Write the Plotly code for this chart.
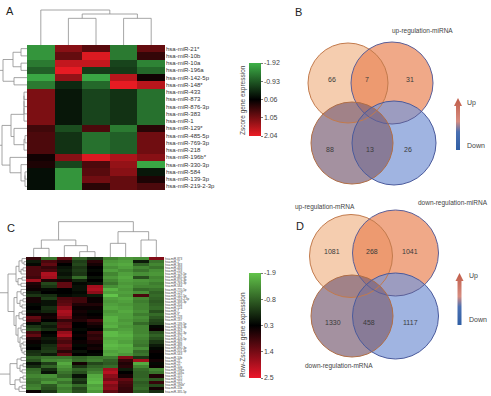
import plotly.graph_objects as go

W, H = 491, 396
FONT = "Liberation Sans, Arial, sans-serif"


def px(x):
    return x / W


def py(y):
    return 1 - y / H


# ---------------- Panel A data ----------------
A_ROWS = ["hsa-miR-21*", "hsa-miR-10b", "hsa-miR-10a", "hsa-miR-196a", "hsa-miR-142-5p",
          "hsa-miR-148*", "hsa-miR-433", "hsa-miR-873", "hsa-miR-876-3p", "hsa-miR-383",
          "hsa-miR-1", "hsa-miR-129*", "hsa-miR-485-5p", "hsa-miR-769-3p", "hsa-miR-218",
          "hsa-miR-196b*", "hsa-miR-330-3p", "hsa-miR-584", "hsa-miR-139-3p", "hsa-miR-219-2-3p"]
A_Z = [
    [-1.6, 1.2, 0.8, -1.3, 0.9],
    [-1.6, 0.9, 1.9, -1.3, 0.5],
    [-1.3, 1.7, 1.7, -0.7, -1.4],
    [-1.0, 2.0, -0.6, -0.6, -1.1],
    [-1.8, 1.3, -1.8, 1.6, 0.2],
    [-1.3, -0.4, -1.1, 2.0, 1.6],
    [1.1, -0.2, -0.7, -0.5, -1.2],
    [1.1, -0.2, -0.7, -0.5, -1.2],
    [1.1, -0.2, -0.7, -0.5, -1.2],
    [1.1, -0.2, -0.7, -0.5, -1.2],
    [1.1, -0.2, -0.7, -0.5, -1.2],
    [0.6, -0.8, 0.7, -1.3, 0.4],
    [0.7, -0.5, -1.2, -1.0, 1.0],
    [0.7, -0.5, -1.2, -1.0, 1.0],
    [0.7, -0.5, -1.2, -1.0, 1.0],
    [0.2, 1.2, 1.9, 1.5, 1.2],
    [0.3, -0.7, 0.7, 1.3, -1.8],
    [-0.1, -1.6, 0.8, 1.2, -0.2],
    [-0.1, -1.6, 1.0, 0.9, 0.3],
    [-0.1, -1.6, 0.4, 0.9, 0.7],
]
A_TICKS = [-1.92, -0.93, 0.06, 1.05, 2.04]
# dendrograms: (height, left, right); leaves are row/column indices
A_TOP_TREE = (105, 0, (93, (80, 1, 2), (80, 3, 4)))
A_LEFT_TREE = (30, (24, (14, (6, 0, 1), (6, 2, 3)), (13, 4, 5)),
               (25, (16, (3, (3, (3, (3, 6, 7), 8), 9), 10), (13, 11, (3, (2, 12, 13), 14))),
                (17, 15, (6, 16, (2, (2, 17, 18), 19)))))

# ---------------- Panel C data ----------------
C_ROWS = ["hsa-miR-873", "hsa-miR-1*", "hsa-miR-383", "hsa-miR-433", "hsa-miR-218",
          "hsa-miR-129-5p", "hsa-miR-485-5p", "hsa-miR-876-3p", "hsa-miR-769-3p", "hsa-miR-584",
          "hsa-miR-770-5p", "hsa-miR-129*", "hsa-miR-142-5p", "hsa-miR-219-2-3p", "hsa-miR-338-3p",
          "hsa-miR-204", "hsa-miR-124", "hsa-miR-7", "hsa-miR-9*", "hsa-miR-128",
          "hsa-miR-137", "hsa-miR-139-5p", "hsa-miR-323-3p", "hsa-miR-329", "hsa-miR-342-3p",
          "hsa-miR-379", "hsa-miR-409-5p", "hsa-miR-432", "hsa-miR-488", "hsa-miR-490-3p",
          "hsa-miR-501-5p", "hsa-miR-543", "hsa-miR-10b", "hsa-miR-21", "hsa-miR-21*",
          "hsa-miR-10a", "hsa-miR-196a", "hsa-miR-148a", "hsa-miR-155", "hsa-miR-210",
          "hsa-miR-222", "hsa-miR-196b*", "hsa-miR-15b", "hsa-miR-335-5p"]
C_Z = [
    [0.8, -1.0, 1.2, -0.8, -0.3, -1.2, -1.4, -1.3, 1.5],
    [0.0, 1.0, 0.6, -0.4, 0.7, -1.4, -1.5, 0.0, -1.0],
    [0.2, 1.2, 0.3, -0.5, 0.5, -1.5, -1.6, -0.8, -1.2],
    [1.0, 0.8, 0.1, -0.3, 0.3, -1.3, -1.5, -1.2, -1.0],
    [1.0, 1.0, 0.0, -0.4, 0.2, -1.5, -1.3, -1.0, -1.3],
    [1.0, 1.9, 0.1, -0.3, 0.3, -1.2, -1.5, -1.3, -1.4],
    [0.9, 1.8, -0.1, -0.9, 0.1, -1.4, -1.6, -0.6, -1.2],
    [1.8, 0.6, 0.5, -0.1, 0.3, -1.2, -1.5, -1.4, -1.3],
    [0.6, -0.5, 1.2, 0.2, 0.1, -1.0, -1.4, -1.3, -1.1],
    [0.5, -0.3, 1.2, 0.1, 1.8, -1.3, -1.5, -1.2, -1.2],
    [0.4, 0.2, 0.3, 0.1, 1.9, -1.7, -1.4, -0.9, -1.0],
    [0.0, 0.3, 0.3, 0.2, 1.6, -1.5, -1.5, -1.3, -0.8],
    [-0.3, -0.2, 0.2, 0.1, 0.0, -1.9, -1.4, 1.0, -0.9],
    [0.5, -0.4, 1.0, 0.9, 0.4, -1.5, -1.6, -1.2, -0.8],
    [0.5, 0.1, 1.1, 0.9, 0.4, -1.4, -1.5, -1.1, -0.7],
    [0.2, 0.1, 1.2, 0.6, 0.6, -1.5, -1.4, -1.2, -0.8],
    [0.3, -0.2, 1.6, 0.4, 0.4, -1.6, -1.5, -1.2, -0.9],
    [0.1, -0.1, 1.9, 0.5, 0.2, -1.4, -1.6, -1.3, -0.6],
    [0.4, 0.4, 1.8, 0.4, 0.3, -1.5, -1.5, -1.1, -0.9],
    [1.2, 0.5, 1.5, 0.5, 0.4, -1.7, -1.5, -1.3, -0.7],
    [1.0, 0.3, 0.8, 0.6, 0.9, -1.7, -1.4, -1.2, -0.5],
    [0.2, -0.2, 1.1, 0.3, 0.6, -1.6, -1.5, -0.9, -0.4],
    [-0.3, 0.0, 1.2, 0.3, 0.4, -1.7, -1.4, -1.2, 0.2],
    [-0.5, -0.2, 0.9, 0.2, 0.3, -1.4, -1.5, -1.2, 0.4],
    [0.9, 0.3, 1.7, 0.3, 0.9, -1.8, -1.6, -1.2, -0.6],
    [1.2, 0.2, 1.9, 0.4, 0.7, -1.8, -1.7, -1.3, -0.8],
    [0.6, 0.0, 1.2, 0.3, 0.8, -1.6, -1.6, -1.2, -0.6],
    [0.4, 0.1, 1.0, 0.4, 0.6, -1.7, -1.5, -1.1, -0.3],
    [0.2, -0.2, 1.3, 0.2, 0.4, -1.8, -1.7, -1.0, 0.0],
    [0.3, -0.3, 1.1, 0.3, 0.5, -1.7, -1.6, -1.3, 0.2],
    [-0.2, -0.4, 0.7, 0.1, 0.3, -1.5, -1.6, -0.9, 0.4],
    [-0.3, 0.0, 1.2, 0.3, 0.2, -1.6, -1.4, -1.0, 0.3],
    [-0.8, -1.0, -1.0, -0.8, -1.0, -1.1, 1.5, -0.3, 0.3],
    [-0.6, -1.2, -1.3, -0.9, -1.1, -0.8, 0.8, 1.8, 0.5],
    [0.1, -0.4, -1.6, 0.5, -0.5, -0.7, 0.6, -1.6, 0.2],
    [-0.2, -0.8, -1.4, -0.3, -0.8, -0.9, 0.7, -1.2, 0.4],
    [-0.9, -0.2, -1.2, -0.8, -1.0, 1.8, 0.0, -0.9, -1.2],
    [-1.0, 0.1, -1.0, -0.6, -1.2, 2.0, 0.3, -0.8, -1.0],
    [-1.2, -1.3, -0.8, 0.1, -1.6, 1.6, 0.5, -0.8, 0.6],
    [-1.0, -1.1, -1.3, -0.4, -1.7, 1.4, 1.2, -0.9, -0.7],
    [-0.9, -1.4, -1.0, -0.2, -1.8, 1.8, 1.0, -0.7, 0.8],
    [-1.1, -0.7, -1.3, -0.9, -1.5, 1.5, 0.9, -0.8, -0.5],
    [-1.2, -0.6, -1.1, -0.5, -1.6, 1.6, 0.8, -0.9, 0.5],
    [0.4, -0.3, -1.2, -0.6, -1.4, 1.2, 0.8, -0.7, -0.2],
]
C_TICKS = [-1.9, -0.8, 0.3, 1.4, 2.5]
C_TOP_TREE = (106, (51, (26, 0, 1), (34, 2, (16, 3, 4))), (76, (41, 5, 6), (51, 7, 8)))
C_LEFT_TREE = (30,
               (18,
                (10, (7, (4, 0, (2, 1, 2)), (5, (3, 3, 4), 5)), (8, (4, 6, 7), (5, 8, 9))),
                (12, (9, (5, 10, (3, 11, 12)), (6, (3, 13, 14), (4, 15, 16))),
                 (10, (7, (4, 17, 18), (3, 19, 20)),
                  (8, (5, (3, 21, 22), (4, 23, 24)),
                   (6, (4, 25, 26), (5, (3, 27, 28), (4, 29, (2, 30, 31)))))))),
               (16, (9, (5, 32, 33), (6, (3, 34, 35), (4, 36, 37))),
                (11, (6, (3, 38, 39), 40), (7, (4, 41, 42), 43))))

# ---------------- Venn data ----------------
B_COUNTS = [66, 7, 31, 88, 13, 26]
D_COUNTS = [1081, 268, 1041, 1330, 458, 1117]
B_LABELS = ["up-regulation-miRNA"]
D_LABELS = ["up-regulation-mRNA", "down-regulation-miRNA", "down-regulation-mRNA"]
ARROW_TEXT = ["Up", "Down"]

# geometry (style/layout) for the Venn panels, in pixel-sized axis units
B_CIRCLES = [(-23, 30, 40), (21, 30, 41), (-19, -30, 41), (23, -30, 42)]
D_CIRCLES = [(-22, 29, 41.5), (22.5, 32, 43), (-21, -31, 41), (22.5, -31, 43)]
B_COUNT_POS = [(-39, 34), (-4, 34), (39, 34), (-41, -36), (-1, -36), (37, -36)]
D_COUNT_POS = [(-41, 33), (-1, 33), (37, 33), (-40, -37), (-4, -37), (37, -37)]
# label centres in page pixels (x, y from top-left)
B_LABEL_PX = [(422, 31)]
D_LABEL_PX = [(325, 207), (453, 203), (339, 366)]
B_ARROW_TEXT_PX = [(465, 103), (465, 145.5)]
D_ARROW_TEXT_PX = [(467, 276), (467, 319)]
VENN_FILL = ["rgba(241,184,141,0.7)", "rgba(233,132,86,0.7)",
             "rgba(126,98,119,0.7)", "rgba(123,151,213,0.72)"]
VENN_LINE = ["#c27a4c", "#5b5f98", "#b06e46", "#4a5a9c"]
FILL_ORDER = [0, 1, 3, 2]

HEAT_A_SCALE = [[0, "rgb(236,28,36)"], [0.5, "rgb(0,0,0)"], [1, "rgb(62,178,72)"]]
HEAT_C_SCALE = [[0, "rgb(236,22,42)"], [0.5, "rgb(0,0,0)"], [1, "rgb(98,196,74)"]]
ARROW_SCALE = [[0, "rgb(48,95,165)"], [0.35, "rgb(75,112,178)"],
               [0.55, "rgb(214,140,128)"], [1, "rgb(192,92,72)"]]
ARROW_SHAPE_X = [3, 7, 7, 9, 5, 1, 3, 3]
ARROW_SHAPE_Y = [2, 2, 46, 46, 54, 46, 46, 2]


def dendro_xy(tree, orient):
    xs, ys = [], []

    def walk(n):
        if isinstance(n, int):
            return float(n), 0.0
        h, l, r = n
        pl, hl = walk(l)
        pr, hr = walk(r)
        for p, hh in [(pl, hl), (pl, h), (pr, h), (pr, hr)]:
            if orient == "top":
                xs.append(p); ys.append(hh)
            else:
                xs.append(hh); ys.append(p)
        xs.append(None); ys.append(None)
        return (pl + pr) / 2, h

    walk(tree)
    return xs, ys


fig = go.Figure()
LINE = dict(color="#8e8e8e", width=0.8)

# Heatmap A
fig.add_trace(go.Heatmap(
    z=[[-v for v in row] for row in A_Z], x=list(range(5)), y=list(range(len(A_ROWS))),
    colorscale=HEAT_A_SCALE, zmin=-A_TICKS[-1], zmax=-A_TICKS[0],
    xaxis="x", yaxis="y", hoverinfo="skip",
    colorbar=dict(x=px(249), xanchor="left", y=py(99.5), yanchor="middle",
                  len=73, lenmode="pixels", thickness=12, thicknessmode="pixels",
                  outlinewidth=0, xpad=0, ypad=0,
                  tickvals=[-t for t in A_TICKS], ticktext=[f"{t:.2f}" for t in A_TICKS],
                  ticks="outside", ticklen=2, tickcolor="#777",
                  tickfont=dict(size=7, color="#444", family=FONT))))
xs, ys = dendro_xy(A_TOP_TREE, "top")
fig.add_trace(go.Scatter(x=xs, y=ys, mode="lines", line=LINE, xaxis="x2", yaxis="y2", hoverinfo="skip"))
xs, ys = dendro_xy(A_LEFT_TREE, "left")
fig.add_trace(go.Scatter(x=xs, y=ys, mode="lines", line=LINE, xaxis="x3", yaxis="y3", hoverinfo="skip"))

# Heatmap C
fig.add_trace(go.Heatmap(
    z=[[-v for v in row] for row in C_Z], x=list(range(9)), y=list(range(len(C_ROWS))),
    colorscale=HEAT_C_SCALE, zmin=-C_TICKS[-1], zmax=-C_TICKS[0],
    xaxis="x4", yaxis="y4", hoverinfo="skip",
    colorbar=dict(x=px(249), xanchor="left", y=py(325.5), yanchor="middle",
                  len=105, lenmode="pixels", thickness=12, thicknessmode="pixels",
                  outlinewidth=0, xpad=0, ypad=0,
                  tickvals=[-t for t in C_TICKS], ticktext=[f"{t:.1f}" for t in C_TICKS],
                  ticks="outside", ticklen=2, tickcolor="#777",
                  tickfont=dict(size=7, color="#444", family=FONT))))
xs, ys = dendro_xy(C_TOP_TREE, "top")
fig.add_trace(go.Scatter(x=xs, y=ys, mode="lines", line=LINE, xaxis="x5", yaxis="y5", hoverinfo="skip"))
xs, ys = dendro_xy(C_LEFT_TREE, "left")
fig.add_trace(go.Scatter(x=xs, y=ys, mode="lines", line=LINE, xaxis="x6", yaxis="y6", hoverinfo="skip"))

# Arrows
for xa, ya in [("x9", "y9"), ("x10", "y10")]:
    fig.add_trace(go.Scatter(x=ARROW_SHAPE_X, y=ARROW_SHAPE_Y, mode="lines", fill="toself",
                             line=dict(width=0), fillgradient=dict(type="vertical", colorscale=ARROW_SCALE),
                             xaxis=xa, yaxis=ya, hoverinfo="skip"))

shapes, annotations = [], []
for circles, xr, yr in [(B_CIRCLES, "x7", "y7"), (D_CIRCLES, "x8", "y8")]:
    for i in FILL_ORDER:
        cx, cy, r = circles[i]
        shapes.append(dict(type="circle", xref=xr, yref=yr, x0=cx - r, x1=cx + r, y0=cy - r, y1=cy + r,
                           fillcolor=VENN_FILL[i], line=dict(width=0)))
    for i in range(4):
        cx, cy, r = circles[i]
        shapes.append(dict(type="circle", xref=xr, yref=yr, x0=cx - r, x1=cx + r, y0=cy - r, y1=cy + r,
                           fillcolor="rgba(0,0,0,0)", line=dict(color=VENN_LINE[i], width=1)))

for counts, pos, xr, yr in [(B_COUNTS, B_COUNT_POS, "x7", "y7"), (D_COUNTS, D_COUNT_POS, "x8", "y8")]:
    for c, (x, y) in zip(counts, pos):
        annotations.append(dict(x=x, y=y, xref=xr, yref=yr, text=str(c), showarrow=False,
                                xanchor="center", yanchor="middle",
                                font=dict(size=7, color="#3a3a3a", family=FONT)))
for labels, pos in [(B_LABELS, B_LABEL_PX), (D_LABELS, D_LABEL_PX)]:
    for t, (x, y) in zip(labels, pos):
        annotations.append(dict(x=px(x), y=py(y), xref="paper", yref="paper", text=t, showarrow=False,
                                xanchor="center", yanchor="middle",
                                font=dict(size=6.5, color="#444", family=FONT)))
for pos in [B_ARROW_TEXT_PX, D_ARROW_TEXT_PX]:
    for t, (x, y) in zip(ARROW_TEXT, pos):
        annotations.append(dict(x=px(x), y=py(y), xref="paper", yref="paper", text=t, showarrow=False,
                                xanchor="left", yanchor="middle",
                                font=dict(size=7, color="#444", family=FONT)))

for letter, x, y in [("A", 4, 11), ("B", 293, 12), ("C", 5, 228), ("D", 294, 226)]:
    annotations.append(dict(x=px(x), y=py(y), xref="paper", yref="paper", text=letter, showarrow=False,
                            xanchor="left", yanchor="middle", font=dict(size=11, color="#222", family=FONT)))
for t, y in [("Zscore gene expression", 100), ("Row-Zscore gene expression", 335)]:
    annotations.append(dict(x=px(243), y=py(y), xref="paper", yref="paper", text=t, showarrow=False,
                            xanchor="center", yanchor="middle",
                            textangle=-90, font=dict(size=6.5, color="#444", family=FONT)))


def hidden(domain, rng, anchor):
    return dict(domain=domain, range=rng, visible=False, fixedrange=True, anchor=anchor)


layout = dict(
    width=W, height=H, margin=dict(l=0, r=0, t=0, b=0), paper_bgcolor="white", plot_bgcolor="rgba(0,0,0,0)",
    showlegend=False, font=dict(family=FONT),
    xaxis=hidden([px(27), px(165)], [-0.5, 4.5], "y"),
    yaxis=dict(domain=[py(190), py(45)], range=[len(A_ROWS) - 0.5, -0.5], anchor="x", side="right",
               tickvals=list(range(len(A_ROWS))), ticktext=A_ROWS, ticks="", showgrid=False,
               zeroline=False, showline=False, fixedrange=True,
               tickfont=dict(size=6, color="#333", family=FONT)),
    xaxis2=hidden([px(27), px(165)], [-0.5, 4.5], "y2"),
    yaxis2=hidden([py(45), py(8)], [0, 111], "x2"),
    xaxis3=hidden([0, px(27)], [27, 0], "y3"),
    yaxis3=hidden([py(190), py(45)], [len(A_ROWS) - 0.5, -0.5], "x3"),
    xaxis4=hidden([px(26), px(164)], [-0.5, 8.5], "y4"),
    yaxis4=dict(domain=[py(393), py(257)], range=[len(C_ROWS) - 0.5, -0.5], anchor="x4", side="right",
                tickvals=list(range(len(C_ROWS))), ticktext=C_ROWS, ticks="", showgrid=False,
                zeroline=False, showline=False, fixedrange=True,
                tickfont=dict(size=3, color="#444", family=FONT)),
    xaxis5=hidden([px(26), px(164)], [-0.5, 8.5], "y5"),
    yaxis5=hidden([py(257), py(220)], [0, 111], "x5"),
    xaxis6=hidden([0, px(26)], [26, 0], "y6"),
    yaxis6=hidden([py(393), py(257)], [len(C_ROWS) - 0.5, -0.5], "x6"),
    xaxis7=hidden([px(296), px(446)], [-75, 75], "y7"),
    yaxis7=hidden([py(196), py(30)], [-83, 83], "x7"),
    xaxis8=hidden([px(298), px(448)], [-75, 75], "y8"),
    yaxis8=hidden([py(368), py(202)], [-83, 83], "x8"),
    xaxis9=hidden([px(453), px(463)], [0, 10], "y9"),
    yaxis9=hidden([py(152), py(96)], [0, 56], "x9"),
    xaxis10=hidden([px(454.5), px(464.5)], [0, 10], "y10"),
    yaxis10=hidden([py(327), py(271)], [0, 56], "x10"),
    shapes=shapes, annotations=annotations,
)
fig.update_layout(**layout)
fig.write_html("out.html")
